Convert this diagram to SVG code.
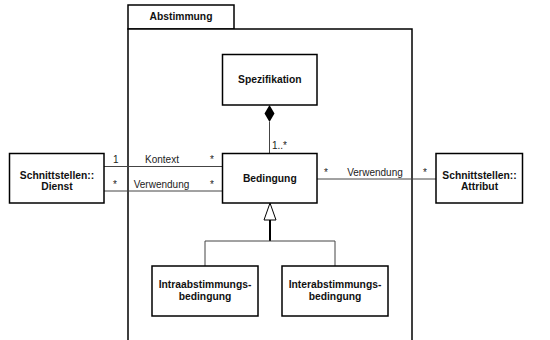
<svg xmlns="http://www.w3.org/2000/svg" width="550" height="340" viewBox="0 0 550 340">
<defs>
<style>
.box{fill:#fff;stroke:#000;stroke-width:1.5}
.pkg{fill:#fff;stroke:#000;stroke-width:1.5}
.t{font-family:"Liberation Sans",Arial,sans-serif;font-size:10.3px;font-weight:bold;fill:#111;text-anchor:middle}
.l{font-family:"Liberation Sans",Arial,sans-serif;font-size:10px;fill:#222}
.c{stroke:#444;stroke-width:1;fill:none}
</style>
</defs>
<g id="package">
<rect class="pkg" x="128" y="5" width="106" height="24"/>
<rect class="pkg" x="128" y="29" width="284" height="320"/>
<text class="t" x="181" y="20">Abstimmung</text>
</g>
<g id="connectors">
<line class="c" x1="104" y1="166.5" x2="222" y2="166.5"/>
<line class="c" x1="104" y1="191" x2="222" y2="191"/>
<line class="c" x1="317" y1="179" x2="436" y2="179"/>
<line class="c" x1="269.5" y1="122" x2="269.5" y2="153"/>
<polygon points="269.5,105 274.5,113.5 269.5,122 264.5,113.5" fill="#000"/>
<polygon points="270,203 276,220 264,220" fill="#fff" stroke="#000" stroke-width="1"/>
<line x1="270" y1="220" x2="270" y2="241" stroke="#000" stroke-width="2"/>
<polyline class="c" points="205,266 205,241 335,241 335,266"/>
<text class="l" x="272" y="149">1..*</text>
<text class="l" x="113" y="163">1</text>
<text class="l" x="162" y="163" text-anchor="middle">Kontext</text>
<text class="l" x="210" y="163">*</text>
<text class="l" x="113" y="188">*</text>
<text class="l" x="161.5" y="188" text-anchor="middle">Verwendung</text>
<text class="l" x="210" y="188">*</text>
<text class="l" x="324" y="176">*</text>
<text class="l" x="375" y="176" text-anchor="middle">Verwendung</text>
<text class="l" x="423" y="176">*</text>
</g>
<g id="spezifikation">
<rect class="box" x="222.5" y="54.5" width="94.5" height="50.5"/>
<text class="t" x="269.8" y="83">Spezifikation</text>
</g>
<g id="bedingung">
<rect class="box" x="222.5" y="153.5" width="94.5" height="49.5"/>
<text class="t" x="269.8" y="182">Bedingung</text>
</g>
<g id="dienst">
<rect class="box" x="9.5" y="153.5" width="94.5" height="49.5"/>
<text class="t" x="57" y="178.5">Schnittstellen::</text>
<text class="t" x="57" y="190">Dienst</text>
</g>
<g id="attribut">
<rect class="box" x="436" y="153.5" width="86.5" height="49.5"/>
<text class="t" x="479.5" y="178.5">Schnittstellen::</text>
<text class="t" x="479.5" y="190">Attribut</text>
</g>
<g id="intra">
<rect class="box" x="152" y="266" width="106" height="50"/>
<text class="t" x="205" y="288">Intraabstimmungs-</text>
<text class="t" x="205" y="300">bedingung</text>
</g>
<g id="inter">
<rect class="box" x="282" y="266" width="106" height="50"/>
<text class="t" x="335" y="288">Interabstimmungs-</text>
<text class="t" x="335" y="300">bedingung</text>
</g>
</svg>
